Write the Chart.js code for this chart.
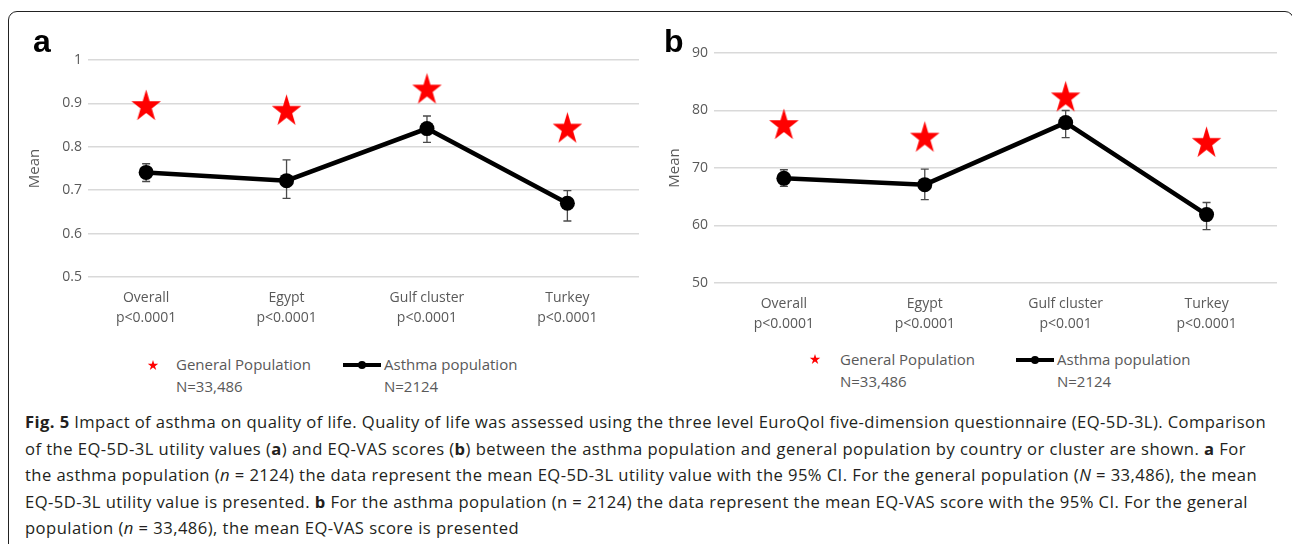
<!DOCTYPE html>
<html><head><meta charset="utf-8">
<script src="https://cdn.jsdelivr.net/npm/chart.js@4"></script>
<style>
html,body{margin:0;padding:0;background:#fff;}
#page{position:relative;width:1292px;height:544px;overflow:hidden;font-family:"Open Sans",sans-serif;}
#frame{position:absolute;left:8px;top:11px;width:1286px;height:600px;border:1.5px solid #222;border-radius:9px;box-sizing:border-box;}
canvas{position:absolute;top:0;}
.letter{position:absolute;top:25px;font-family:"Liberation Sans",Arial,sans-serif;font-weight:bold;font-size:32px;color:#000;line-height:1;}
.leg{position:absolute;font-size:15px;color:#595959;line-height:21.5px;white-space:nowrap;}
.icon{position:absolute;}
.cap{position:absolute;left:25px;font-size:16.6px;color:#231f20;white-space:nowrap;line-height:20px;}
</style></head>
<body><div id="page">
<div id="frame"></div>
<canvas id="chartA" width="650" height="345" style="left:0"></canvas>
<canvas id="chartB" width="642" height="345" style="left:650px"></canvas>
<div class="letter" style="left:33px">a</div>
<div class="letter" style="left:664px">b</div>

<svg class="icon" style="left:147px;top:359px" width="12" height="12"><polygon id="s1" fill="#ff0000"/></svg>
<div class="leg" style="left:176px;top:354px">General Population<br>N=33,486</div>
<svg class="icon" style="left:343px;top:359px" width="40" height="12"><line x1="0" y1="6" x2="38" y2="6" stroke="#000" stroke-width="4"/><circle cx="19" cy="6" r="4" fill="#000"/></svg>
<div class="leg" style="left:384px;top:354px">Asthma population<br>N=2124</div>

<svg class="icon" style="left:809px;top:353px" width="12" height="12"><polygon id="s2" fill="#ff0000"/></svg>
<div class="leg" style="left:840px;top:349px">General Population<br>N=33,486</div>
<svg class="icon" style="left:1016px;top:354px" width="40" height="12"><line x1="0" y1="6" x2="38" y2="6" stroke="#000" stroke-width="4"/><circle cx="19" cy="6" r="4" fill="#000"/></svg>
<div class="leg" style="left:1057px;top:349px">Asthma population<br>N=2124</div>

<div class="cap" data-right="1266" style="top:412px"><b>Fig. 5</b> Impact of asthma on quality of life. Quality of life was assessed using the three level EuroQol five-dimension questionnaire (EQ-5D-3L). Comparison</div>
<div class="cap" data-right="1246" style="top:438.5px">of the EQ-5D-3L utility values (<b>a</b>) and EQ-VAS scores (<b>b</b>) between the asthma population and general population by country or cluster are shown. <b>a</b> For</div>
<div class="cap" data-right="1257" style="top:465px">the asthma population (<i>n</i> = 2124) the data represent the mean EQ-5D-3L utility value with the 95% CI. For the general population (<i>N</i> = 33,486), the mean</div>
<div class="cap" data-right="1248" style="top:491.5px">EQ-5D-3L utility value is presented. <b>b</b> For the asthma population (n = 2124) the data represent the mean EQ-VAS score with the 95% CI. For the general</div>
<div class="cap" data-right="519" style="top:518px">population (<i>n</i> = 33,486), the mean EQ-VAS score is presented</div>
</div>
<script>
// ---- data ----
const categories = ['Overall', 'Egypt', 'Gulf cluster', 'Turkey'];
const pValuesA = ['p<0.0001', 'p<0.0001', 'p<0.0001', 'p<0.0001'];
const pValuesB = ['p<0.0001', 'p<0.0001', 'p<0.001', 'p<0.0001'];
const utilityGeneral = [0.893, 0.882, 0.931, 0.841];
const utilityAsthma  = [0.741, 0.722, 0.842, 0.670];
const utilityLow     = [0.720, 0.681, 0.810, 0.629];
const utilityHigh    = [0.761, 0.770, 0.871, 0.699];
const vasGeneral = [77.4, 75.2, 82.2, 74.3];
const vasAsthma  = [68.2, 67.1, 77.9, 61.9];
const vasLow     = [66.8, 64.5, 75.3, 59.3];
const vasHigh    = [69.7, 69.8, 80.0, 64.0];
const utilityTicks = [0.5, 0.6, 0.7, 0.8, 0.9, 1];
const vasTicks = [50, 60, 70, 80, 90];

// ---- star shapes ----
function starPoints(cx, cy, R, r, sy) {
  const pts = [];
  for (let k = 0; k < 10; k++) {
    const a = -Math.PI / 2 + k * Math.PI / 5;
    const rad = k % 2 ? r : R;
    pts.push([cx + rad * Math.cos(a), cy + rad * Math.sin(a) * sy]);
  }
  return pts;
}
function starCanvas(R, sy) {
  const c = document.createElement('canvas');
  const w = Math.ceil(2 * R + 2), h = Math.ceil(2 * R * sy + 2);
  c.width = w; c.height = h;
  const g = c.getContext('2d');
  g.fillStyle = '#ff0000';
  g.beginPath();
  starPoints(w / 2, h / 2, R, R * 0.382, sy).forEach((p, i) => i ? g.lineTo(p[0], p[1]) : g.moveTo(p[0], p[1]));
  g.closePath(); g.fill();
  return c;
}
const bigStar = starCanvas(15.5, 1.1);
['s1', 's2'].forEach(id => {
  document.getElementById(id).setAttribute('points', starPoints(6, 6.5, 5.5, 2.1, 1).map(p => p.join(',')).join(' '));
});

// ---- error bar plugin ----
const errorBars = {
  id: 'errorBars',
  beforeDatasetsDraw(chart, args, opts) {
    const { ctx, scales: { x, y } } = chart;
    ctx.save();
    ctx.strokeStyle = '#4a4a4a';
    ctx.lineWidth = 1.3;
    opts.low.forEach((lo, i) => {
      const px = x.getPixelForValue(i);
      const y1 = y.getPixelForValue(lo), y2 = y.getPixelForValue(opts.high[i]);
      ctx.beginPath();
      ctx.moveTo(px, y1); ctx.lineTo(px, y2);
      ctx.moveTo(px - 4, y1); ctx.lineTo(px + 4, y1);
      ctx.moveTo(px - 4, y2); ctx.lineTo(px + 4, y2);
      ctx.stroke();
    });
    ctx.restore();
  }
};

function build(id, cfg) {
  const tickFont = { family: 'Open Sans', size: 14, lineHeight: 20 / 14 };
  return new Chart(document.getElementById(id), {
    type: 'line',
    data: {
      datasets: [
        {
          label: 'General Population',
          data: cfg.general.map((v, i) => ({ x: i, y: v })),
          showLine: false, pointStyle: bigStar, pointRadius: 10,
          borderColor: '#ff0000', backgroundColor: '#ff0000'
        },
        {
          label: 'Asthma population',
          data: cfg.asthma.map((v, i) => ({ x: i, y: v })),
          borderColor: '#000', borderWidth: 4.5, tension: 0,
          pointRadius: 7.5, pointBackgroundColor: '#000', pointBorderColor: '#000', pointBorderWidth: 0
        }
      ]
    },
    options: {
      responsive: false, animation: false, events: [],
      layout: { padding: { left: cfg.padL, top: cfg.top, right: cfg.padR, bottom: 0 } },
      plugins: { legend: { display: false }, tooltip: { enabled: false }, errorBars: { low: cfg.low, high: cfg.high } },
      scales: {
        x: {
          type: 'linear', min: cfg.xmin, max: cfg.xmax,
          grid: { display: false, drawTicks: false }, border: { display: false },
          afterBuildTicks: s => { s.ticks = categories.map((_, i) => ({ value: i })); },
          afterFit: s => { s.height = cfg.H - cfg.bottom; },
          ticks: {
            padding: 11, color: '#595959', font: tickFont, maxRotation: 0, autoSkip: false,
            callback: v => [categories[Math.round(v)], cfg.p[Math.round(v)]]
          }
        },
        y: {
          min: cfg.ticks[0], max: cfg.ticks[cfg.ticks.length - 1],
          grid: { color: '#d9d9d9', lineWidth: 1.5, drawTicks: false }, border: { display: false },
          afterBuildTicks: s => { s.ticks = cfg.ticks.map(v => ({ value: v })); },
          afterFit: s => { s.width = cfg.left - cfg.padL; },
          ticks: { padding: 6, color: '#595959', font: tickFont, callback: v => String(v) },
          title: { display: true, text: 'Mean', color: '#595959', font: { family: 'Open Sans', size: 15 }, padding: { top: 4, bottom: 4 } }
        }
      }
    },
    plugins: [errorBars]
  });
}

build('chartA', {
  general: utilityGeneral, asthma: utilityAsthma, low: utilityLow, high: utilityHigh,
  ticks: utilityTicks, p: pValuesA, xmin: -0.414, xmax: 3.51,
  H: 345, padL: 22, left: 88, padR: 10, top: 60, bottom: 277
});
build('chartB', {
  general: vasGeneral, asthma: vasAsthma, low: vasLow, high: vasHigh,
  ticks: vasTicks, p: pValuesB, xmin: -0.496, xmax: 3.5,
  H: 345, padL: 12, left: 64, padR: 15, top: 53, bottom: 283
});

// fit caption lines to reference widths
document.querySelectorAll('.cap').forEach(el => {
  const target = +el.dataset.right - 25;
  const w = el.getBoundingClientRect().width;
  const n = el.textContent.length;
  el.style.letterSpacing = ((target - w) / n) + 'px';
});
</script>
</body></html>
